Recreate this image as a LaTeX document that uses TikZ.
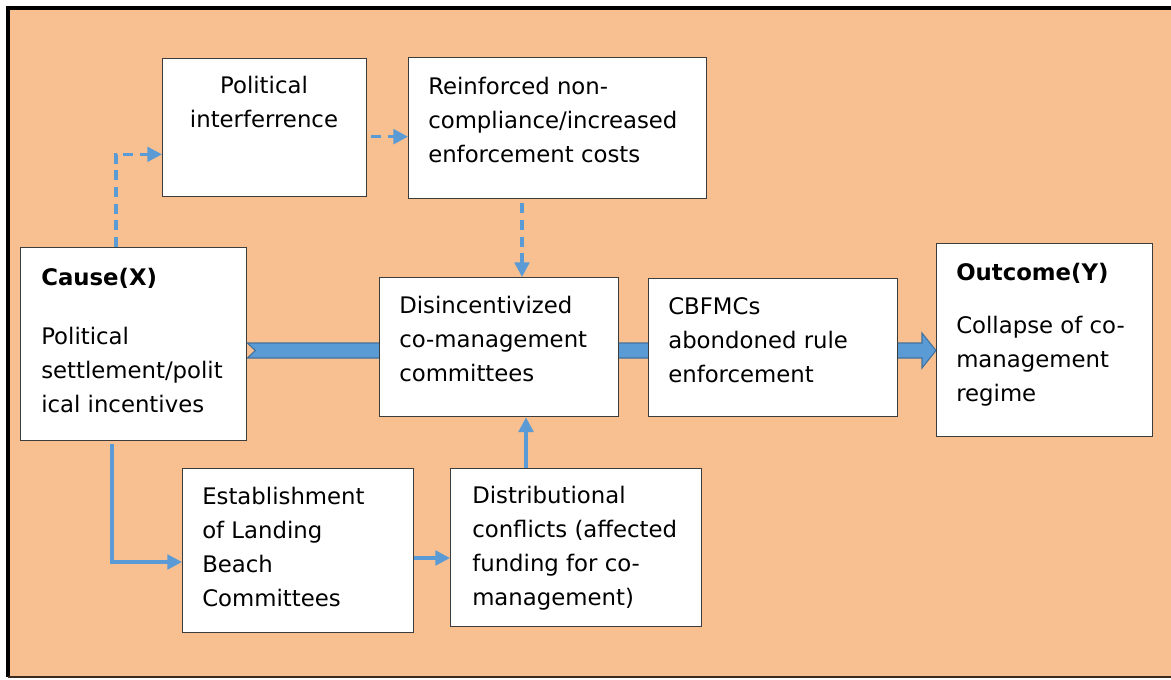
\documentclass[tikz,border=0pt]{standalone}
\usepackage{fontspec}
\setmainfont{DejaVu Sans}
\usetikzlibrary{arrows.meta,calc,backgrounds}
\definecolor{peach}{RGB}{248,192,144}
\definecolor{flow}{RGB}{91,155,213}
\definecolor{flowdark}{RGB}{65,113,156}
\definecolor{boxline}{RGB}{60,60,60}
\definecolor{framebot}{RGB}{58,42,32}
\begin{document}
\begin{tikzpicture}[x=0.75pt,y=-0.75pt,
  stepbox/.style={draw=boxline,fill=white,line width=1pt,inner sep=0pt,anchor=north west},
  wh/.style 2 args={minimum width=#1*0.75pt,minimum height=#2*0.75pt},
  txt/.style={font=\fontsize{17.1}{25.5}\selectfont,align=left,anchor=north west,inner sep=0pt,
     yshift=12.6pt,execute at begin node=\strut},
  ttl/.style={txt,font=\fontsize{17.1}{25.5}\selectfont\bfseries,yshift=5.25pt},
  flowline/.style={draw=flow,line width=2.4pt,-{Triangle[length=11pt,width=11pt]}},
  dashflow/.style={flowline,dash pattern=on 7.5pt off 5pt},
  blockarrow/.style={fill=flow,draw=flowdark,line width=0.8pt,line join=miter}
]
\useasboundingbox (0,0) rectangle (1171,679);

% boxes
\node[stepbox,wh={204}{138}] (polint)  at (162,58)  {};
\node[stepbox,wh={298}{141}] (reinf)   at (408,57)  {};
\node[stepbox,wh={226}{193}] (cause)   at (20,247)  {};
\node[stepbox,wh={239}{139}] (disinc)  at (379,277) {};
\node[stepbox,wh={249}{138}] (cbfmc)   at (648,278) {};
\node[stepbox,wh={216}{193}] (outcome) at (936,243) {};
\node[stepbox,wh={231}{164}] (estab)   at (182,468) {};
\node[stepbox,wh={251}{158}] (distr)   at (450,468) {};

% background and block arrow
\begin{scope}[on background layer]
  \fill[peach] (8,8) rectangle (1175,677);
  \draw[line width=3pt] (8,677) -- (8,8) -- (1175,8);
  \draw[framebot,line width=0.8pt] (8,677) -- (1175,677);
  \coordinate (ta) at (cause.east |- 0,350.5);
  \coordinate (tb) at (outcome.west |- 0,350.5);
  \draw[blockarrow] ($(ta)+(0,-7.5)$) -- ($(tb)+(-14,-7.5)$) -- ($(tb)+(-14,-17.5)$)
     -- (tb) -- ($(tb)+(-14,17.5)$) -- ($(tb)+(-14,7.5)$) -- ($(ta)+(0,7.5)$)
     -- ($(ta)+(8,0)$) -- cycle;
\end{scope}

% texts
\node[txt,anchor=north,align=center] (tpolint) at (264,93) {Political\\interferrence};
\node[txt] (treinf) at (428,94) {Reinforced non-\\compliance/increased\\enforcement costs};
\node[ttl] (tcause) at (41,285) {Cause(X)};
\node[txt] (tcauseb) at (41,344) {Political\\settlement/polit\\ical incentives};
\node[txt] (tdisinc) at (399,313) {Disincentivized\\co-management\\committees};
\node[txt] (tcbfmc) at (668,314) {CBFMCs\\abondoned rule\\enforcement};
\node[ttl] (toutcome) at (956,280) {Outcome(Y)};
\node[txt] (toutcomeb) at (956,333) {Collapse of co-\\management\\regime};
\node[txt] (testab) at (202,504) {Establishment\\of Landing\\Beach\\Committees};
\node[txt] (tdistr) at (472,503) {Distributional\\conflicts (affected\\funding for co-\\management)};

% connectors
\draw[dashflow] ($(cause.north west)+(96,0)$) |- ($(polint.south west)+(0,-43)$);
\draw[dashflow] ($(polint.east)+(4,9)$) -- ($(reinf.west)+(0,8.5)$);
\draw[dashflow] ($(reinf.south west)+(114,4)$) -- ($(disinc.north west)+(143,0)$);
\draw[flowline] ($(cause.south west)+(92,3)$) |- ($(estab.north west)+(0,94)$);
\draw[flowline] ($(estab.north east)+(0,90)$) -- ($(distr.north west)+(0,90)$);
\draw[flowline] ($(distr.north west)+(76,0)$) -- ($(disinc.south west)+(147,0)$);
\end{tikzpicture}
\end{document}
